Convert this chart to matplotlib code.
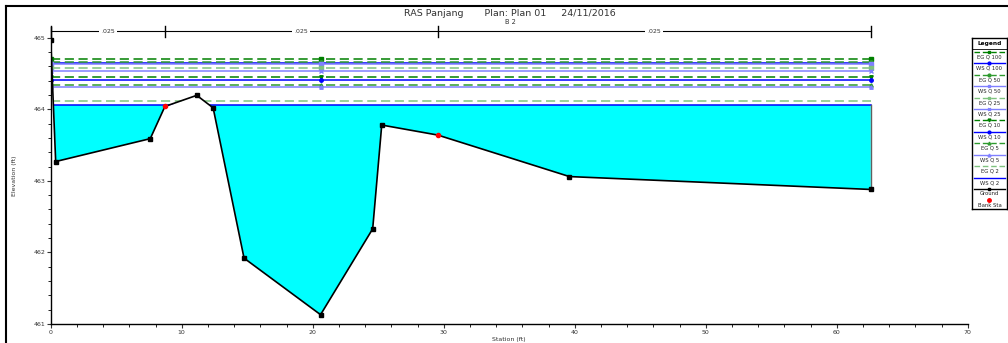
import numpy as np
import matplotlib
matplotlib.use("Agg")
import matplotlib.pyplot as plt
from matplotlib.lines import Line2D

# ground profile (station ft, elevation ft)
station = [0, 0.38, 7.6, 8.72, 11.15, 12.4, 14.76, 20.6, 24.58, 25.27, 29.55, 39.6, 62.6]
elev = [464.97, 463.27, 463.59, 464.04, 464.195, 464.02, 461.92, 461.13, 462.33, 463.78, 463.64, 463.06, 462.88]
bank_sta = [8.72, 29.55]
bank_elev = [464.04, 463.64]

# water surface / energy grade per profile
profiles = ["Q 100", "Q 50", "Q 25", "Q 10", "Q 5", "Q 2"]
eg_elev = [464.70, 464.66, 464.58, 464.45, 464.335, 464.115]
ws_elev = [464.65, 464.63, 464.53, 464.41, 464.31, 464.06]

# manning's n values between breaks
n_breaks = [0, 8.72, 29.55, 62.6]
n_vals = [".025", ".025", ".025"]

eg_colors = ["#008000", "#2e9a2e", "#7fc27f", "#008000", "#2e9a2e", "#7fc27f"]
ws_colors = ["#0000ff", "#8080ff", "#8080ff", "#0000ff", "#8080ff", "#0000ff"]
eg_markers = ["s", "o", "s", "v", "^", "None"]
ws_markers = ["o", "s", "x", "o", "^", "None"]

fig = plt.figure(figsize=(10.08, 3.43), dpi=100)
ax = fig.add_axes([50.7 / 1008, 1 - 324 / 343, (967.7 - 50.7) / 1008, (324 - 27) / 343])

x0, x1 = station[0], station[-1]
mark_x = [0, 20.6, 62.6]

# water fill for lowest profile
ws2 = ws_elev[-1]
ax.fill_between(station, elev, ws2, where=np.array(elev) < ws2, interpolate=True,
                color="#00ffff", zorder=1.0, lw=0)

for i, p in enumerate(profiles):
    ax.plot([x0, x1], [eg_elev[i]] * 2, color=eg_colors[i], ls=(0, (6, 3)), lw=1.1, zorder=1.2)
    ax.plot(mark_x, [eg_elev[i]] * 3, color=eg_colors[i], ls="none", marker=eg_markers[i], ms=2.5, zorder=1.2)
    ax.plot([x0, x1], [ws_elev[i]] * 2, color=ws_colors[i], lw=1.1, zorder=1.2)
    ax.plot(mark_x, [ws_elev[i]] * 3, color=ws_colors[i], ls="none", marker=ws_markers[i], ms=2.5, zorder=1.2)

# hide lines below ground
ax.fill_between(station, 461, elev, color="white", zorder=1.5, lw=0)
ax.plot([x1, x1], [elev[-1], ws2], color="#606060", lw=1, zorder=1.6)

ax.plot(station, elev, color="black", lw=1.2, zorder=3)
gx = [s for s in station if s not in bank_sta]
gy = [e for s, e in zip(station, elev) if s not in bank_sta]
ax.plot(gx, gy, ls="none", marker="s", ms=2.5, color="black", zorder=4)
ax.plot(bank_sta, bank_elev, ls="none", marker="o", ms=3, color="red", zorder=4)

# manning's n bar
ny = 465.09
ax.plot([n_breaks[0], n_breaks[-1]], [ny, ny], color="black", lw=0.8, clip_on=False, zorder=6)
for b in n_breaks:
    ax.plot([b, b], [ny - 0.08, ny + 0.08], color="black", lw=1, clip_on=False, zorder=6)
for a, b, v in zip(n_breaks[:-1], n_breaks[1:], n_vals):
    ax.text((a + b) / 2, ny, v, fontsize=4.5, ha="center", va="center", color="#333333",
            bbox=dict(fc="white", ec="none", pad=1.5), clip_on=False, zorder=7)

ax.set_xlim(0, 70)
ax.set_ylim(461, 465.15)
ax.set_xticks(np.arange(0, 71, 10))
ax.set_xticks(np.arange(0, 71, 2), minor=True)
ax.set_yticks([461, 462, 463, 464, 465])
ax.set_yticks(np.arange(461, 465.01, 0.2), minor=True)
ax.tick_params(labelsize=4.5, length=3, width=0.8, colors="#333333", pad=1)
ax.tick_params(which="minor", length=2, width=0.6)
for s in ["top", "right"]:
    ax.spines[s].set_visible(False)
for s in ["left", "bottom"]:
    ax.spines[s].set_linewidth(1.0)
ax.set_xlabel("Station (ft)", fontsize=4.5, labelpad=2, color="#333333")
ax.set_ylabel("Elevation (ft)", fontsize=4.5, labelpad=12, color="#333333")

fig.text(510 / 1008, 1 - 13 / 343, "RAS Panjang       Plan: Plan 01     24/11/2016",
         fontsize=6.8, ha="center", va="center", color="#333333")
fig.text(510 / 1008, 1 - 21.5 / 343, "B 2", fontsize=4.8, ha="center", va="center", color="#333333")

# outer frame
fig.add_artist(Line2D([6 / 1008, 6 / 1008], [0, 1 - 6 / 343], color="black", lw=1.5))
fig.add_artist(Line2D([6 / 1008, 1], [1 - 6 / 343, 1 - 6 / 343], color="black", lw=1.5))

# legend drawn as a panel
lg = fig.add_axes([971.7 / 1008, 1 - 209 / 343, 35.5 / 1008, (209 - 37.7) / 343])
lg.set_xlim(0, 36)
lg.set_ylim(15, 0)
lg.set_xticks([])
lg.set_yticks([])
for s in lg.spines.values():
    s.set_linewidth(1.0)
lg.axhline(1, color="black", lw=0.6)
lg.text(18, 0.5, "Legend", fontsize=4.2, ha="center", va="center", fontweight="bold")
fs = 3.8
row = 1
for i, p in enumerate(profiles):
    lg.plot([2, 34], [row + 0.25] * 2, color=eg_colors[i], ls=(0, (4, 2)), lw=1)
    lg.plot([18], [row + 0.25], color=eg_colors[i], marker=eg_markers[i], ms=2)
    lg.text(18, row + 0.68, "EG " + p, fontsize=fs, ha="center", va="center", color="#222222")
    row += 1
    lg.plot([2, 34], [row + 0.25] * 2, color=ws_colors[i], lw=1)
    lg.plot([18], [row + 0.25], color=ws_colors[i], marker=ws_markers[i], ms=2)
    lg.text(18, row + 0.68, "WS " + p, fontsize=fs, ha="center", va="center", color="#222222")
    row += 1
lg.plot([2, 34], [row + 0.25] * 2, color="black", lw=1)
lg.plot([18], [row + 0.25], color="black", marker="s", ms=2)
lg.text(18, row + 0.68, "Ground", fontsize=fs, ha="center", va="center", color="#222222")
row += 1
lg.plot([18], [row + 0.25], color="red", marker="o", ms=2.5)
lg.text(18, row + 0.68, "Bank Sta", fontsize=fs, ha="center", va="center", color="#222222")

fig.savefig("out.png", dpi=100)
